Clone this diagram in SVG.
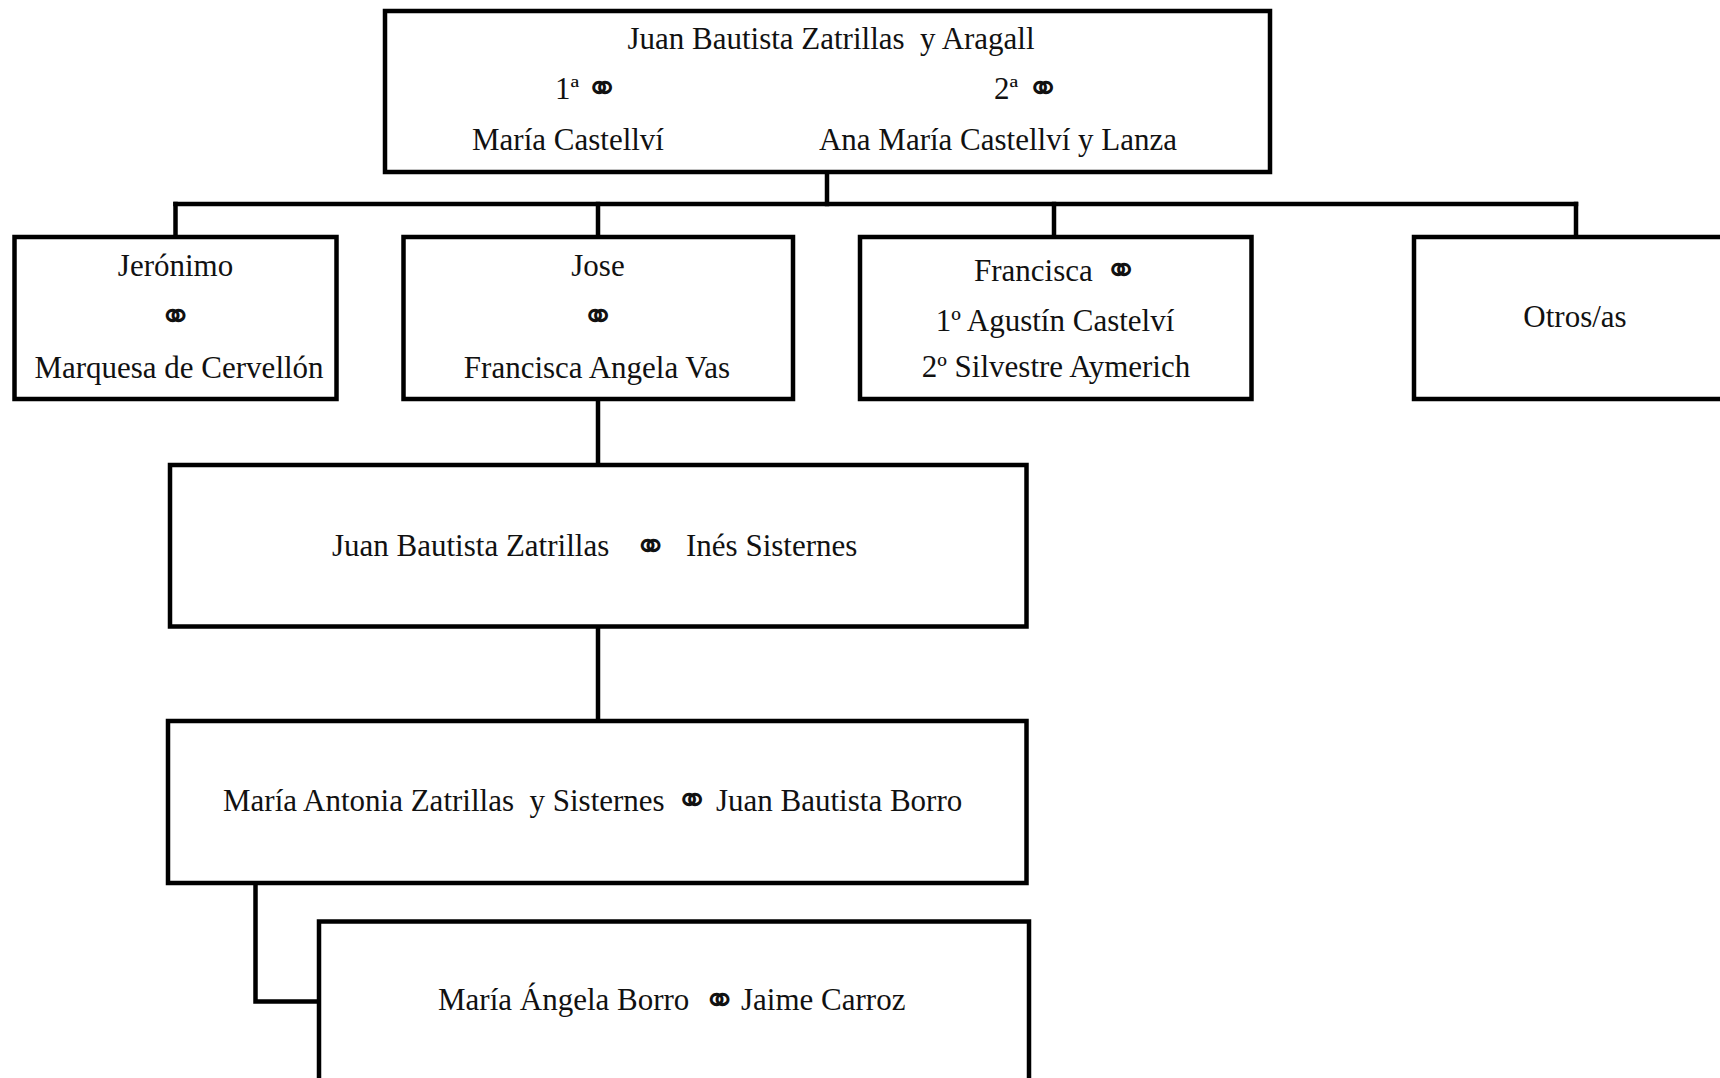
<svg xmlns="http://www.w3.org/2000/svg" width="1720" height="1078" viewBox="0 0 1720 1078">
  <style>
    .box { fill: #ffffff; stroke: #000000; stroke-width: 4.5; }
    .wire { fill: none; stroke: #000000; stroke-width: 4.5; stroke-linecap: square; }
    text { font-family: "Liberation Serif", "Times New Roman", serif; font-size: 31px; fill: #111111; }
    .c { text-anchor: middle; }
    .sym { font-family: "DejaVu Sans", sans-serif; font-size: 40px; text-anchor: middle; }
  </style>
  <rect width="1720" height="1078" fill="#ffffff"/>

  <!-- connectors -->
  <g id="connectors">
    <path class="wire" d="M827 172 V204"/>
    <path class="wire" d="M175.5 204 H1576"/>
    <path class="wire" d="M175.5 204 V237"/>
    <path class="wire" d="M598 204 V237"/>
    <path class="wire" d="M1054 204 V237"/>
    <path class="wire" d="M1576 204 V237"/>
    <path class="wire" d="M598 399 V465"/>
    <path class="wire" d="M598 626 V721"/>
    <path class="wire" d="M255.5 883 V1001.5 H319"/>
  </g>

  <!-- root couple -->
  <g id="node-root">
    <rect class="box" x="385" y="11" width="885" height="161"/>
    <text class="c" x="831" y="49" xml:space="preserve">Juan Bautista Zatrillas  y Aragall</text>
    <text x="555" y="99">1ª</text>
    <text class="sym" x="602" y="101.5">⚭</text>
    <text x="994" y="99">2ª</text>
    <text class="sym" x="1043" y="101.5">⚭</text>
    <text class="c" x="568" y="150">María Castellví</text>
    <text class="c" x="998" y="150">Ana María Castellví y Lanza</text>
  </g>

  <!-- children -->
  <g id="node-jeronimo">
    <rect class="box" x="14.5" y="237" width="322" height="162"/>
    <text class="c" x="175.5" y="276">Jerónimo</text>
    <text class="sym" x="175.5" y="329.5">⚭</text>
    <text class="c" x="179" y="378">Marquesa de Cervellón</text>
  </g>

  <g id="node-jose">
    <rect class="box" x="403.5" y="237" width="389.5" height="162"/>
    <text class="c" x="598" y="276">Jose</text>
    <text class="sym" x="598" y="329.5">⚭</text>
    <text class="c" x="597" y="378">Francisca Angela Vas</text>
  </g>

  <g id="node-francisca">
    <rect class="box" x="860" y="237" width="391.5" height="162"/>
    <text x="974" y="281">Francisca</text>
    <text class="sym" x="1121" y="283.5">⚭</text>
    <text class="c" x="1055" y="331">1º Agustín Castelví</text>
    <text class="c" x="1056" y="377">2º Silvestre Aymerich</text>
  </g>

  <g id="node-otros">
    <rect class="box" x="1414" y="237" width="320" height="162"/>
    <text class="c" x="1575" y="327">Otros/as</text>
  </g>

  <!-- descendants -->
  <g id="node-juan-bautista">
    <rect class="box" x="170" y="465" width="856.5" height="161.5"/>
    <text x="332" y="556">Juan Bautista Zatrillas</text>
    <text class="sym" x="650.5" y="559.5">⚭</text>
    <text x="686" y="556">Inés Sisternes</text>
  </g>

  <g id="node-maria-antonia">
    <rect class="box" x="168" y="721" width="858.5" height="162"/>
    <text x="223" y="811" xml:space="preserve">María Antonia Zatrillas  y Sisternes</text>
    <text class="sym" x="692" y="814">⚭</text>
    <text x="716" y="811">Juan Bautista Borro</text>
  </g>

  <g id="node-maria-angela">
    <rect class="box" x="319" y="921.5" width="710" height="180"/>
    <text x="438" y="1010">María Ángela Borro</text>
    <text class="sym" x="719.5" y="1014">⚭</text>
    <text x="741" y="1010">Jaime Carroz</text>
  </g>
</svg>
